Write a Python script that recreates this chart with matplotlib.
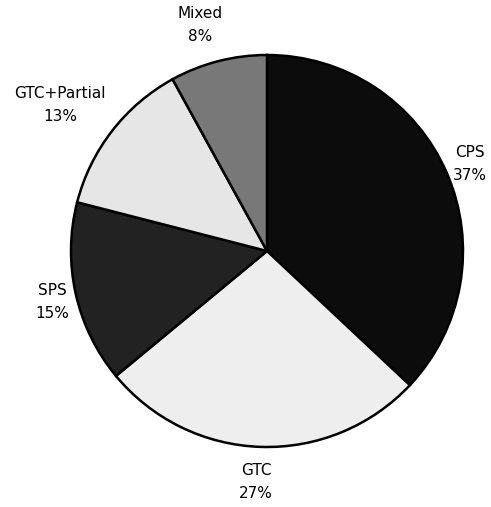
import matplotlib
matplotlib.use("Agg")
import matplotlib.pyplot as plt

labels = ["CPS", "GTC", "SPS", "GTC+Partial", "Mixed"]
shares = [37, 27, 15, 13, 8]
colors = ["#0c0c0c", "#eeeeee", "#222222", "#e6e6e6", "#787878"]

# label centres in pixels (x, y from top)
label_px = [(470, 164), (256, 482), (52, 302), (60, 105), (200, 25)]

W, H = 491, 507
fig = plt.figure(figsize=(W / 100, H / 100), dpi=100)

cx, cy, r = 267, 251, 196
ax = fig.add_axes([(cx - r) / W, (H - cy - r) / H, 2 * r / W, 2 * r / H])

ax.pie(shares, colors=colors, startangle=90, counterclock=False,
       wedgeprops=dict(edgecolor="black", linewidth=1.8))
ax.set_xlim(-1, 1)
ax.set_ylim(-1, 1)
ax.set_aspect("equal")
ax.axis("off")

for lab, val, (x, y) in zip(labels, shares, label_px):
    fig.text(x / W, 1 - y / H, f"{lab}\n{val}%", ha="center", va="center",
             fontsize=11, linespacing=1.6, family="DejaVu Sans")

fig.savefig("out.png", dpi=100, facecolor="white")
